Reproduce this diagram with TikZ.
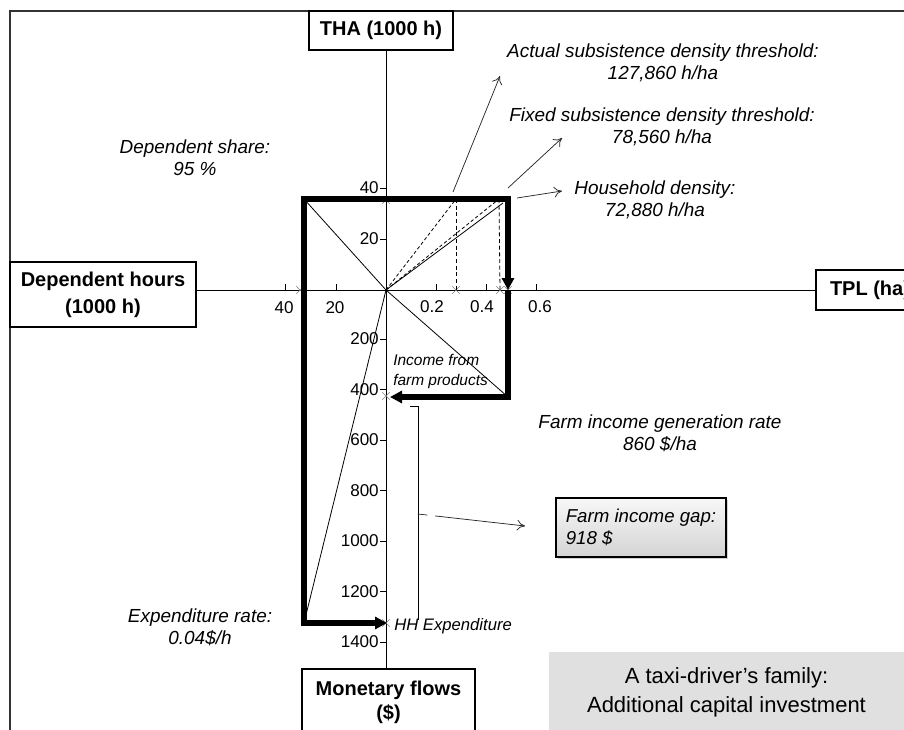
\documentclass[tikz,border=0pt]{standalone}
\usepackage{fontspec}
\setmainfont{Liberation Sans}
\usetikzlibrary{positioning}
\usetikzlibrary{arrows.meta}
\usetikzlibrary{shapes.misc}
\usetikzlibrary{shadows}
\tikzset{axis node/.style={shape=rectangle,
    draw, line width=0.8pt, fill=white, align=center, inner sep=0pt,
    font=\bfseries\fontsize{15}{18}\selectfont}}
\tikzset{note node/.style={align=center, inner sep=0pt,
    font=\itshape\fontsize{14.2}{16.5}\selectfont}}
\tikzset{tick node/.style={inner sep=0pt, font=\fontsize{12.8}{15}\selectfont}}
\tikzset{gap node/.style={shape=rectangle,
    draw, line width=0.8pt, align=left, inner xsep=6pt, minimum width=127.5pt,
    minimum height=44.25pt, top color=black!3, bottom color=black!17,
    drop shadow={shadow xshift=1.5pt, shadow yshift=-1.5pt, opacity=0.35},
    font=\itshape\fontsize{14}{17}\selectfont}}
\tikzset{case node/.style={shape=rectangle, fill=black!12, align=center,
    minimum width=266pt, minimum height=60pt,
    font=\fontsize{16.5}{21.5}\selectfont}}
\tikzset{flow/.style={line width=3.8pt, line join=miter}}
\tikzset{pointer/.style={-{To[length=6pt,width=8pt]}, line width=0.55pt, black!85}}
\tikzset{x mark/.style={shape=cross out, draw=gray, line width=0.5pt,
    minimum size=5pt, inner sep=0pt}}

\begin{document}
\begin{tikzpicture}[x=0.75pt, y=-0.75pt]
    \useasboundingbox (0,0) rectangle (904,729);
    \draw[line width=0.9pt, black!80] (10,745) -- (10,11) -- (920,11);

    \coordinate (o) at (386,290);
    \coordinate (a) at (304,199);
    \coordinate (b) at (508,199);
    \coordinate (c) at (508,290);
    \coordinate (d) at (508,397);
    \coordinate (e) at (390,397);
    \coordinate (f) at (304,623);
    \coordinate (g) at (387,623);
    \coordinate (h1) at (456,199);
    \coordinate (h1x) at (456,290);
    \coordinate (h2) at (499,199);
    \coordinate (h2x) at (500,290);
    \coordinate (h3) at (503,203);

    \node[axis node, minimum width=108pt, minimum height=29.25pt] (1) at (381,30.5) {THA (1000 h)};
    \node[axis node, minimum width=139.5pt, minimum height=48.75pt] (2) at (103,294.5) {Dependent hours\\[2pt](1000 h)};
    \node[axis node, minimum width=81pt, minimum height=30pt] (3) at (870,290) {TPL (ha)};
    \node[axis node, minimum width=129.75pt, minimum height=49.5pt] (4) at (388.5,702) {Monetary flows\\(\$)};

    \path[draw, line width=0.6pt]
    (2.east |- o) edge node {} (3.west |- o)
    (1.south -| o) edge node {} (4.north -| o)
    ;

    \foreach \v/\y in {40/188, 20/239}
        \draw (380,\y) -- (386,\y) node[tick node, anchor=east] (u\v) at (379,\y) {\v};
    \foreach \v/\y in {200/339, 400/389.5, 600/440, 800/490.5, 1000/541, 1200/591.5, 1400/642}
        \draw (380,\y) -- (386,\y) node[tick node, anchor=east] (m\v) at (379,\y) {\v};
    \foreach \v/\x in {40/285, 20/336}
        \draw (\x,284) -- (\x,290) node[tick node] (l\v) at (\x-1,308) {\v};
    \foreach \n/\v/\x/\lx in {1/0.2/436/432, 2/0.4/486/482, 3/0.6/536/540}
        \draw (\x,284) -- (\x,290) node[tick node] (r\n) at (\lx,307) {\v};

    \foreach \i/\p in {1/{(386,200)}, 2/{(456,290)}, 3/{(500,290)}, 4/{(300,290)}, 5/{(386,396)}, 6/{(386,623)}, 7/{(508,290)}}
        \node[x mark] (x\i) at \p {};

    \draw[line width=0.6pt] (a) -- (o) -- (d);
    \draw[line width=0.6pt] (o) -- (f);
    \draw[line width=0.6pt] (o) -- (h3);
    \draw[line width=0.6pt, dash pattern=on 2.5pt off 1.8pt] (o) -- (h1);
    \draw[line width=0.6pt, dash pattern=on 2.5pt off 1.8pt] (o) -- (h2);
    \draw[line width=0.6pt, dash pattern=on 3pt off 2pt] (h1) -- (h1x);
    \draw[line width=0.6pt, dash pattern=on 3pt off 2pt] (h2) -- (h2x);

    \draw[flow, {Triangle[length=9pt,width=9pt]}-{Triangle[length=9pt,width=9pt]}] (g) -- (f) -- (a) -- (b) -- (c);
    \draw[flow, -{Triangle[length=9pt,width=9pt]}] (c) -- (d) -- (e);

    \node[note node] (7) at (663,63) {Actual subsistence density threshold:\\127,860 h/ha};
    \node[note node] (8) at (662,126.5) {Fixed subsistence density threshold:\\78,560 h/ha};
    \node[note node] (9) at (655,199.5) {Household density:\\72,880 h/ha};
    \node[note node] (10) at (195,157.5) {Dependent share:\\95 \%};
    \node[note node] (11) at (660,433.5) {Farm income generation rate\\860 \$/ha};
    \node[note node] (12) at (200,627) {Expenditure rate:\\0.04\$/h};
    \node[note node, align=left, anchor=west, font=\itshape\fontsize{11.6}{15}\selectfont] (13) at (393,371) {Income from\\farm products};
    \node[note node, anchor=west, font=\itshape\fontsize{12.5}{15}\selectfont] (14) at (394,626) {HH Expenditure};

    \node[gap node] (5) at (641,527.5) {Farm income gap:\\918 \$};
    \node[case node] (6) at (726.5,692) {A taxi-driver’s family:\\Additional capital investment};

    \coordinate (p1) at (453,192);
    \coordinate (q1) at (500,76);
    \coordinate (p2) at (508,188);
    \coordinate (q2) at (562,138);
    \coordinate (p3) at (517,198);
    \coordinate (q3) at (562,191);
    \draw[pointer] (p1) -- (q1);
    \draw[pointer] (p2) -- (q2);
    \draw[pointer] (p3) -- (q3);

    \coordinate (k1) at (410,406);
    \coordinate (k2) at (418,406);
    \coordinate (k3) at (418,620);
    \coordinate (k4) at (418,514);
    \coordinate (k5) at (525,526);
    \draw[line width=0.6pt] (k1) -- (k2) -- (k3);
    \draw[pointer, dash pattern=on 7pt off 6pt on 80pt] (k4) -- (k5);
\end{tikzpicture}
\end{document}
